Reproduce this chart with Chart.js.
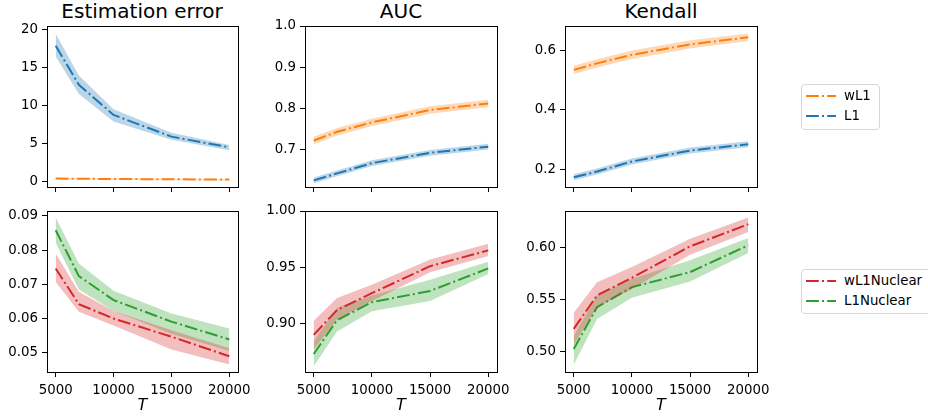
<html>
<head>
<style>
  body { margin: 0; width: 928px; height: 417px; overflow: hidden; background: #fff; font-family: "DejaVu Sans", sans-serif; position: relative; }
  .pane { position: absolute; }
  .title { position: absolute; top: 1px; font-size: 20px; line-height: 20px; text-align: center; width: 200px; color: #000; }
  .legend { position: absolute; border: 1px solid #d6d6d6; border-radius: 4px; background: #fff; font-size: 13.33px; }
  .legend div { position: absolute; left: 0; height: 16px; line-height: 16px; white-space: nowrap; }
  .legend svg { position: absolute; left: 4px; top: 4px; }
  .legend span { position: absolute; left: 42px; top: 0; }
</style>
</head>
<body>
  <div class="title" style="left:42px">Estimation error</div>
  <div class="title" style="left:301px">AUC</div>
  <div class="title" style="left:561px">Kendall</div>

  <div class="pane" style="left:0px;top:0px"><canvas id="c1" width="268" height="195"></canvas></div>
  <div class="pane" style="left:258px;top:0px"><canvas id="c2" width="269" height="195"></canvas></div>
  <div class="pane" style="left:518px;top:0px"><canvas id="c3" width="269" height="195"></canvas></div>
  <div class="pane" style="left:0px;top:200px"><canvas id="c4" width="268" height="217"></canvas></div>
  <div class="pane" style="left:258px;top:200px"><canvas id="c5" width="269" height="217"></canvas></div>
  <div class="pane" style="left:518px;top:200px"><canvas id="c6" width="269" height="217"></canvas></div>

  <div class="legend" id="leg1" style="left:801px;top:84px;width:77px;height:44px"></div>
  <div class="legend" id="leg2" style="left:801px;top:269px;width:135px;height:43px"></div>
</body>
</html>

<script src="https://cdn.jsdelivr.net/npm/chart.js"></script>
<script>
  const T = [5000, 7000, 10000, 15000, 20000];
  const xTicks = [5000, 10000, 15000, 20000];

  // top row: wL1 / L1
  const errWL1 = [0.40, 0.38, 0.35, 0.31, 0.27];
  const errWL1Lo = [0.30, 0.29, 0.26, 0.23, 0.20];
  const errWL1Hi = [0.50, 0.47, 0.44, 0.39, 0.35];
  const errL1 = [17.8, 12.7, 8.75, 5.9, 4.5];
  const errL1Lo = [16.4, 11.5, 7.9, 5.5, 4.1];
  const errL1Hi = [19.4, 13.9, 9.5, 6.4, 4.8];

  const aucWL1 = [0.722, 0.743, 0.766, 0.796, 0.812];
  const aucWL1Lo = [0.713, 0.734, 0.757, 0.787, 0.803];
  const aucWL1Hi = [0.731, 0.752, 0.775, 0.805, 0.821];
  const aucL1 = [0.625, 0.642, 0.667, 0.692, 0.707];
  const aucL1Lo = [0.618, 0.635, 0.660, 0.685, 0.700];
  const aucL1Hi = [0.632, 0.649, 0.674, 0.699, 0.714];

  const kenWL1 = [0.535, 0.557, 0.586, 0.621, 0.645];
  const kenWL1Lo = [0.521, 0.543, 0.572, 0.607, 0.632];
  const kenWL1Hi = [0.549, 0.571, 0.600, 0.635, 0.658];
  const kenL1 = [0.173, 0.192, 0.226, 0.263, 0.284];
  const kenL1Lo = [0.163, 0.182, 0.216, 0.253, 0.274];
  const kenL1Hi = [0.183, 0.202, 0.236, 0.273, 0.294];

  // bottom row: wL1Nuclear / L1Nuclear
  const errWL1N = [0.0746, 0.0642, 0.0600, 0.0547, 0.0490];
  const errWL1NLo = [0.0707, 0.0620, 0.0580, 0.0510, 0.0466];
  const errWL1NHi = [0.0790, 0.0678, 0.0622, 0.0566, 0.0513];
  const errL1N = [0.0858, 0.0724, 0.0654, 0.0591, 0.0539];
  const errL1NLo = [0.0821, 0.0685, 0.0622, 0.0556, 0.0505];
  const errL1NHi = [0.0895, 0.0761, 0.0681, 0.0615, 0.0571];

  const aucWL1N = [0.890, 0.912, 0.927, 0.951, 0.965];
  const aucWL1NLo = [0.877, 0.9035, 0.920, 0.9455, 0.960];
  const aucWL1NHi = [0.9026, 0.9227, 0.9346, 0.957, 0.971];
  const aucL1N = [0.873, 0.903, 0.919, 0.929, 0.949];
  const aucL1NLo = [0.862, 0.893, 0.911, 0.920, 0.944];
  const aucL1NHi = [0.884, 0.914, 0.925, 0.939, 0.955];

  const kenWL1N = [0.5215, 0.5537, 0.5707, 0.601, 0.6222];
  const kenWL1NLo = [0.5064, 0.5424, 0.560, 0.593, 0.6148];
  const kenWL1NHi = [0.537, 0.5665, 0.581, 0.6084, 0.6287];
  const kenL1N = [0.5022, 0.5424, 0.5617, 0.5762, 0.602];
  const kenL1NLo = [0.487, 0.531, 0.5514, 0.5672, 0.5945];
  const kenL1NHi = [0.515, 0.5537, 0.5698, 0.5875, 0.609];

  const ORANGE = '#ff7f0e', BLUE = '#1f77b4', RED = '#d62728', GREEN = '#2ca02c';
  const DASHDOT = [12.8, 3.2, 2, 3.2];
  const FONT = {family: 'DejaVu Sans', size: 13.33};

  function band(hex) {
    let r = parseInt(hex.slice(1,3),16), g = parseInt(hex.slice(3,5),16), b = parseInt(hex.slice(5,7),16);
    return 'rgba(' + r + ',' + g + ',' + b + ',0.3)';
  }
  function pts(ys) { return T.map((t, i) => ({x: t, y: ys[i]})); }

  // one series = lower edge, upper edge filled to lower, then the mean line
  function series(label, color, mean, lo, hi) {
    return [
      {label: label + ' lo', data: pts(lo), borderWidth: 0, pointRadius: 0, fill: false, borderColor: 'transparent'},
      {label: label + ' hi', data: pts(hi), borderWidth: 0, pointRadius: 0, fill: '-1', borderColor: 'transparent', backgroundColor: band(color)},
      {label: label, data: pts(mean), borderWidth: 2, pointRadius: 0, fill: false, borderColor: color, borderDash: DASHDOT, tension: 0}
    ];
  }

  const frame = {
    id: 'frame',
    afterDraw(c) {
      const a = c.chartArea, ctx = c.ctx;
      ctx.save();
      ctx.strokeStyle = '#000';
      ctx.lineWidth = 1;
      ctx.strokeRect(Math.round(a.left) + 0.5, Math.round(a.top) + 0.5, Math.round(a.right - a.left), Math.round(a.bottom - a.top));
      ctx.restore();
    }
  };

  function makePanel(id, bottomRow, yMin, yMax, yTicks, dec, datasets) {
    new Chart(document.getElementById(id), {
      type: 'line',
      data: {datasets: datasets},
      plugins: [frame],
      options: {
        responsive: false,
        animation: false,
        devicePixelRatio: 1,
        layout: {padding: {left: 0, right: 30, top: bottomRow ? 11 : 26, bottom: 0}},
        plugins: {legend: {display: false}, tooltip: {enabled: false}},
        scales: {
          x: {
            type: 'linear', min: 4250, max: 20750,
            afterBuildTicks: s => { s.ticks = xTicks.map(v => ({value: v})); },
            afterFit: s => { s.height = bottomRow ? 45 : 8; s.paddingLeft = 0; s.paddingRight = 0; },
            grid: {drawOnChartArea: false, drawTicks: true, tickLength: 5, color: '#000'},
            border: {display: false},
            ticks: {display: bottomRow, color: '#000', font: FONT, padding: 6, maxRotation: 0, callback: v => String(v)},
            title: {display: bottomRow, text: 'T', color: '#000', font: {family: 'DejaVu Sans', size: 16, style: 'italic'}, padding: {top: 0, bottom: 2}}
          },
          y: {
            min: yMin, max: yMax,
            afterBuildTicks: s => { s.ticks = yTicks.map(v => ({value: v})); },
            afterFit: s => { s.width = 47; s.paddingTop = 0; s.paddingBottom = 0; },
            grid: {drawOnChartArea: false, drawTicks: true, tickLength: 5, color: '#000'},
            border: {display: false},
            ticks: {color: '#000', font: FONT, padding: 4, callback: v => v.toFixed(dec)}
          }
        }
      }
    });
  }

  makePanel('c1', false, -0.7, 20.4, [0, 5, 10, 15, 20], 0,
    series('wL1', ORANGE, errWL1, errWL1Lo, errWL1Hi).concat(series('L1', BLUE, errL1, errL1Lo, errL1Hi)));
  makePanel('c2', false, 0.609, 1.0, [0.7, 0.8, 0.9, 1.0], 1,
    series('wL1', ORANGE, aucWL1, aucWL1Lo, aucWL1Hi).concat(series('L1', BLUE, aucL1, aucL1Lo, aucL1Hi)));
  makePanel('c3', false, 0.140, 0.683, [0.2, 0.4, 0.6], 1,
    series('wL1', ORANGE, kenWL1, kenWL1Lo, kenWL1Hi).concat(series('L1', BLUE, kenL1, kenL1Lo, kenL1Hi)));
  makePanel('c4', true, 0.0444, 0.0914, [0.05, 0.06, 0.07, 0.08, 0.09], 2,
    series('wL1Nuclear', RED, errWL1N, errWL1NLo, errWL1NHi).concat(series('L1Nuclear', GREEN, errL1N, errL1NLo, errL1NHi)));
  makePanel('c5', true, 0.857, 1.0, [0.90, 0.95, 1.00], 2,
    series('wL1Nuclear', RED, aucWL1N, aucWL1NLo, aucWL1NHi).concat(series('L1Nuclear', GREEN, aucL1N, aucL1NLo, aucL1NHi)));
  makePanel('c6', true, 0.48, 0.635, [0.50, 0.55, 0.60], 2,
    series('wL1Nuclear', RED, kenWL1N, kenWL1NLo, kenWL1NHi).concat(series('L1Nuclear', GREEN, kenL1N, kenL1NLo, kenL1NHi)));

  // legends
  function legend(id, items) {
    let el = document.getElementById(id);
    items.forEach((it, i) => {
      let row = document.createElement('div');
      row.style.top = (3 + i * 20) + 'px';
      row.innerHTML = '<svg width="30" height="8"><line x1="0" y1="4" x2="30" y2="4" stroke="' + it[1] +
        '" stroke-width="2" stroke-dasharray="' + DASHDOT.join(' ') + '"/></svg><span>' + it[0] + '</span>';
      el.appendChild(row);
    });
  }
  legend('leg1', [['wL1', ORANGE], ['L1', BLUE]]);
  legend('leg2', [['wL1Nuclear', RED], ['L1Nuclear', GREEN]]);
</script>
